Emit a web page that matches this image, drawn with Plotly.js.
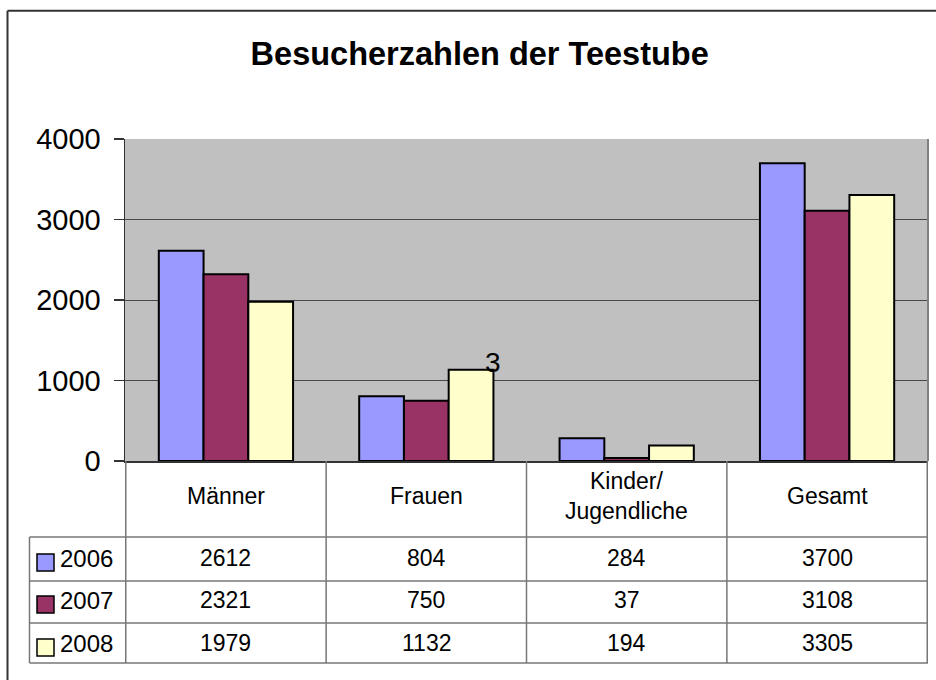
<!DOCTYPE html>
<html>
<head>
<meta charset="utf-8">
<script src="https://cdn.plot.ly/plotly-3.0.1.min.js"></script>
<style>html,body{margin:0;padding:0;background:#fff;overflow:hidden;}#chart{width:936px;height:680px;}</style>
</head>
<body>
<div id="chart"></div>
<script>
// ---- data ----
const categories = ['Männer', 'Frauen', 'Kinder/Jugendliche', 'Gesamt'];
const headerLabels = ['Männer', 'Frauen', 'Kinder/<br>Jugendliche', 'Gesamt'];
const years = ['2006', '2007', '2008'];
const values2006 = [2612, 804, 284, 3700];
const values2007 = [2321, 750, 37, 3108];
const values2008 = [1979, 1132, 194, 3305];
const yTicks = [0, 1000, 2000, 3000, 4000];
const strayLabel = '3';

// ---- styling ----
const seriesValues = [values2006, values2007, values2008];
const colors = ['#9999FF', '#993366', '#FFFFCC'];
const W = 936, H = 680;
const L = 125, R = 8, T = 139, B = 219;
const PW = W - L - R, PH = H - T - B;
const px = x => (x - L) / PW;           // pixel -> paper x
const py = y => (H - B - y) / PH;        // pixel -> paper y
const FONT = 'Liberation Sans, Arial, sans-serif';
const borderCol = '#808080';

const traces = years.map((yr, i) => ({
  type: 'bar',
  name: yr,
  x: categories,
  y: seriesValues[i],
  marker: {color: colors[i], line: {color: '#000', width: 2}},
  hoverinfo: 'x+y+name'
}));

const shapes = [];
const annotations = [];

// outer frame (top + left)
shapes.push({type: 'line', xref: 'paper', yref: 'paper', x0: px(7.5), x1: px(936), y0: py(10.7), y1: py(10.7), line: {color: '#333', width: 2}});
shapes.push({type: 'line', xref: 'paper', yref: 'paper', x0: px(7.5), x1: px(7.5), y0: py(10.7), y1: py(680), line: {color: '#333', width: 2}});

// plot area border right
shapes.push({type: 'line', xref: 'paper', yref: 'paper', x0: 1, x1: 1, y0: 0, y1: 1, line: {color: borderCol, width: 2}});

// table rows
const rowLines = [537, 581, 623, 663];
rowLines.forEach(y => shapes.push({type: 'line', xref: 'paper', yref: 'paper', x0: px(29.5), x1: 1, y0: py(y), y1: py(y), line: {color: '#777', width: 1.5}}));
// left legend column border
shapes.push({type: 'line', xref: 'paper', yref: 'paper', x0: px(29.5), x1: px(29.5), y0: py(537), y1: py(663), line: {color: '#777', width: 1.5}});
// column separators (category boundaries)
for (let i = 0; i <= categories.length; i++) {
  shapes.push({type: 'line', xref: 'x', yref: 'paper', x0: i - 0.5, x1: i - 0.5, y0: 0, y1: py(663), line: {color: '#777', width: 1.5}});
}

// header labels
categories.forEach((c, i) => annotations.push({
  xref: 'x', yref: 'paper', x: c, y: py(496), text: headerLabels[i], showarrow: false,
  xanchor: 'center', yanchor: 'middle', font: {family: FONT, size: 23, color: '#000'}
}));

// data rows
const rowCenters = [558, 600, 643];
years.forEach((yr, r) => {
  // legend key
  shapes.push({type: 'rect', xref: 'paper', yref: 'paper', x0: px(37), x1: px(54), y0: py(rowCenters[r] + 13), y1: py(rowCenters[r] - 4),
    fillcolor: colors[r], line: {color: '#000', width: 1.5}});
  annotations.push({xref: 'paper', yref: 'paper', x: px(58), y: py(rowCenters[r]), text: yr, showarrow: false,
    xanchor: 'left', yanchor: 'middle', font: {family: FONT, size: 24, color: '#000'}});
  categories.forEach((c, i) => annotations.push({
    xref: 'x', yref: 'paper', x: c, y: py(rowCenters[r]), text: String(seriesValues[r][i]), showarrow: false,
    xanchor: 'center', yanchor: 'middle', font: {family: FONT, size: 23, color: '#000'}
  }));
});

// stray data label
annotations.push({xref: 'x', yref: 'y', x: categories[1], y: values2008[1], text: strayLabel, showarrow: false,
  xanchor: 'center', yanchor: 'middle', xshift: 67, yshift: 7, font: {family: FONT, size: 28, color: '#000'}});

const layout = {
  width: W, height: H,
  margin: {l: L, r: R, t: T, b: B, pad: 0},
  paper_bgcolor: '#fff',
  plot_bgcolor: '#C0C0C0',
  barmode: 'group',
  bargap: 0.33,
  bargroupgap: 0,
  showlegend: false,
  title: {text: 'Besucherzahlen der Teestube', x: px(479.7), xref: 'paper', xanchor: 'center',
    y: 1 - 54 / H, yref: 'container', yanchor: 'middle',
    font: {family: FONT, size: 32.5, color: '#000', weight: 'bold'}},
  xaxis: {showticklabels: false, showgrid: false, zeroline: false, showline: true, linecolor: '#333', linewidth: 1.5,
    ticks: '', fixedrange: true},
  yaxis: {range: [0, 4000], tickvals: yTicks, ticktext: yTicks.map(String), showgrid: true, gridcolor: '#484848', gridwidth: 1,
    zeroline: false, showline: true, linecolor: '#333', linewidth: 1.5, ticks: 'outside', ticklen: 10, tickwidth: 1.5, tickcolor: '#333',
    ticklabelstandoff: 7, tickfont: {family: FONT, size: 29, color: '#000'}, fixedrange: true},
  shapes: shapes,
  annotations: annotations
};

Plotly.newPlot('chart', traces, layout, {displayModeBar: false, staticPlot: true});
</script>
</body>
</html>
